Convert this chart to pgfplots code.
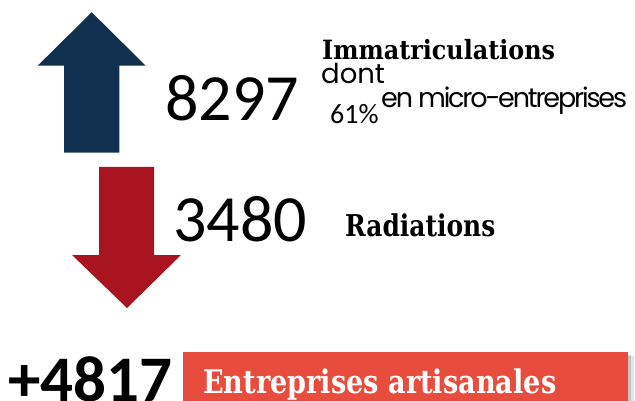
\documentclass[border=0pt]{standalone}
\usepackage{pgfplots}
\pgfplotsset{compat=1.18}
\usepackage{fontspec}
\setmainfont{Carlito}
\newfontfamily\slab{DejaVu Serif}
\newfontfamily\mont{Poppins}
\definecolor{navy}{HTML}{12304F}
\definecolor{darkred}{HTML}{A8141F}
\definecolor{boxred}{HTML}{E84C3D}
\begin{document}
\begin{tikzpicture}
\useasboundingbox (0,0) rectangle (635pt,401pt);
\clip (0,0) rectangle (635pt,401pt);
\begin{axis}[at={(0,0)},anchor=south west,scale only axis,
  width=635pt,height=401pt,xmin=0,xmax=635,ymin=0,ymax=401,
  y dir=reverse,hide axis,clip=false]
% up arrow (registrations)
\addplot[fill=navy,draw=none] coordinates {(64,152.7)(64,65.7)(37.7,65.7)(91.7,12.3)(145.7,65.7)(119.3,65.7)(119.3,152.7)};
% down arrow (deregistrations)
\addplot[fill=darkred,draw=none] coordinates {(99,167)(154,167)(154,255)(181,255)(127,308)(72,255)(99,255)};
% shadow of the box
\addplot[fill=black,fill opacity=0.10,draw=none] coordinates {(186,356)(634,356)(634,410)(186,410)};
\addplot[fill=black,fill opacity=0.15,draw=none] coordinates {(186,355)(631,355)(631,410)(186,410)};
% net balance box
\addplot[fill=boxred,draw=none] coordinates {(183.3,352.3)(628,352.3)(628,410)(183.3,410)};
% texts
\node[anchor=base west,inner sep=0pt,font=\fontsize{66}{66}\selectfont] at (axis cs:165,121) {8297};
\node[anchor=base west,inner sep=0pt,font=\fontsize{66}{66}\selectfont] at (axis cs:173,241) {3480};
\node[anchor=base west,inner sep=0pt,font=\fontsize{65}{65}\selectfont\bfseries] at (axis cs:8,401) {+4817};
\node[anchor=base west,inner sep=0pt,font=\fontsize{26.5}{26.5}\slab\bfseries] at (axis cs:322,59.3) {\scalebox{0.9}[1]{Immatriculations}};
\node[anchor=base west,inner sep=0pt,font=\fontsize{27.5}{27.5}\mont] at (axis cs:321,84) {dont};
\node[anchor=base west,inner sep=0pt,font=\fontsize{28}{28}\selectfont] at (axis cs:330,124) {61\%};
\node[anchor=base west,inner sep=0pt,font=\fontsize{27}{27}\mont\addfontfeature{LetterSpace=-8}] at (axis cs:381,107.3) {en micro-entreprises};
\node[anchor=base west,inner sep=0pt,font=\fontsize{30}{30}\slab\bfseries] at (axis cs:345,236.7) {\scalebox{0.83}[1]{Radiations}};
\node[anchor=base west,inner sep=0pt,text=white,font=\fontsize{32.5}{32.5}\slab\bfseries] at (axis cs:203,393.3) {\scalebox{0.835}[1]{Entreprises artisanales}};
\end{axis}
\end{tikzpicture}
\end{document}
